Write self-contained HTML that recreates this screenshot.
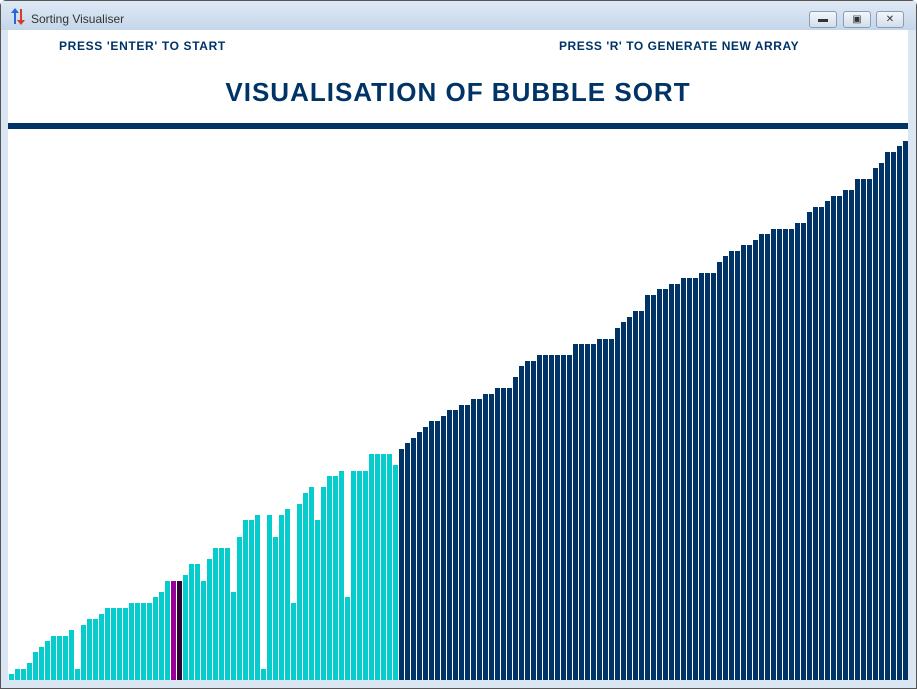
<!DOCTYPE html>
<html><head><meta charset="utf-8"><style>
html,body{margin:0;padding:0;width:917px;height:689px;overflow:hidden;background:#fff;font-family:"Liberation Sans",sans-serif}
#win{position:absolute;left:0;top:0;width:915px;height:687px;border:1px solid #555;border-radius:6px 6px 0 0;background:#dbe6f3}
#titlebar{position:absolute;left:0;top:0;width:915px;height:29px;background:linear-gradient(#dfe9f5,#c5d6ea)}
#title{position:absolute;left:30px;top:11px;font-size:12px;color:#333}
.btn{position:absolute;top:10px;width:28px;height:17px;border:1px solid #8a9db5;border-radius:3px;background:linear-gradient(#f2f6fb,#d3deec);box-sizing:border-box;font-size:10px;text-align:center;line-height:15px;color:#333}
#client{position:absolute;left:7px;top:29px;width:900px;height:650px;background:#fff;overflow:hidden}
.hint{position:absolute;top:9px;font-size:12px;font-weight:bold;color:#003366}
#heading{position:absolute;left:0;width:900px;top:47px;text-align:center;font-size:26px;font-weight:bold;color:#003366;letter-spacing:1px}
#rule{position:absolute;left:0;top:93px;width:900px;height:6px;background:#003366}
</style></head><body>
<div id="win">
<div id="titlebar">
<svg style="position:absolute;left:10px;top:7px" width="14" height="17"><path d="M3 16V5H0L4 0 8 5H5V16Z" fill="#2a66d6"/><path d="M9 1V12H6L10 17 14 12H11V1Z" fill="#d63a2a"/></svg>
<div id="title">Sorting Visualiser</div>
<div class="btn" style="left:808px">&#9644;</div>
<div class="btn" style="left:842px">&#9635;</div>
<div class="btn" style="left:875px">&#10005;</div>
</div>
<div id="client">
<div class="hint" style="left:51px;letter-spacing:0.65px">PRESS 'ENTER' TO START</div>
<div class="hint" style="left:551px;letter-spacing:0.55px">PRESS 'R' TO GENERATE NEW ARRAY</div>
<div id="heading">VISUALISATION OF BUBBLE SORT</div>
<div id="rule"></div>
<svg id="bars" width="900" height="650" style="position:absolute;left:0;top:0"></svg>
</div>
</div>
<script>
const values = [6,11,11,17,28,33,39,44,44,44,50,11,55,61,61,66,72,72,72,72,77,77,77,77,83,88,99,99,99,105,116,116,99,121,132,132,132,88,143,160,160,165,11,165,143,165,171,77,176,187,193,160,193,204,204,209,83,209,209,209,226,226,226,226,215,231,237,242,248,253,259,259,264,270,270,275,275,281,281,286,286,292,292,292,303,314,319,319,325,325,325,325,325,325,336,336,336,336,341,341,341,352,358,363,369,369,385,385,391,391,396,396,402,402,402,407,407,407,418,424,429,429,435,435,440,446,446,451,451,451,451,457,457,468,473,473,479,484,484,490,490,501,501,501,512,517,528,528,534,539];
const states = {27:'compare',28:'current'};
const sortedFrom = 65;
const colors = {unsorted:'#05cdcd', sorted:'#003366', compare:'#990099', current:'#330033'};
const svg = document.getElementById('bars');
const baseY = 650, pitch = 6, barW = 5, x0 = 1;
function xPos(i){ return x0 + i*pitch; }
function yPos(v){ return baseY - v; }
values.forEach((v,i)=>{
  const r = document.createElementNS('http://www.w3.org/2000/svg','rect');
  r.setAttribute('x', xPos(i));
  r.setAttribute('y', yPos(v));
  r.setAttribute('width', barW);
  r.setAttribute('height', v);
  const st = states[i] || (i >= sortedFrom ? 'sorted' : 'unsorted');
  r.setAttribute('fill', colors[st]);
  
  
  svg.appendChild(r);
});
</script>
</body></html>
